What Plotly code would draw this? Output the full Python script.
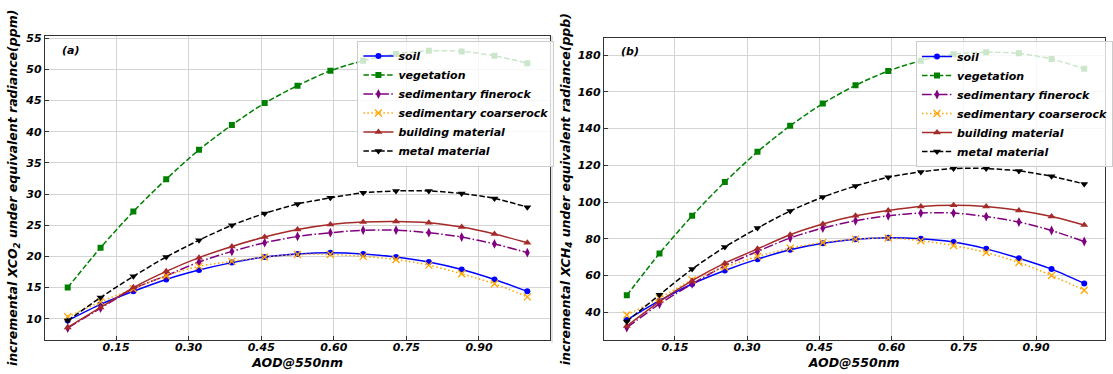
import plotly.graph_objects as go

W, H = 1113, 374

# ---------------- data ----------------
aod = [0.05, 0.1179, 0.1857, 0.2536, 0.3214, 0.3893, 0.4571, 0.525,
       0.5929, 0.6607, 0.7286, 0.7964, 0.8643, 0.9321, 1.0]

series_names = ["soil", "vegetation", "sedimentary finerock",
                "sedimentary coarserock", "building material", "metal material"]

# panel (a): incremental XCO2 (ppm)
co2_soil = [9.7, 12.3, 14.4, 16.3, 17.8, 19.0, 19.9, 20.4, 20.6, 20.4, 19.9, 19.1, 17.9, 16.3, 14.4]
co2_veg = [15.0, 21.4, 27.2, 32.4, 37.1, 41.1, 44.6, 47.4, 49.8, 51.4, 52.5, 53.0, 52.9, 52.2, 51.0]
co2_fine = [8.5, 11.7, 14.8, 16.9, 19.1, 20.8, 22.2, 23.2, 23.8, 24.2, 24.2, 23.8, 23.1, 22.0, 20.6]
co2_coarse = [10.3, 12.7, 14.8, 16.9, 18.4, 19.2, 19.9, 20.3, 20.3, 20.0, 19.5, 18.6, 17.2, 15.6, 13.5]
co2_build = [8.6, 11.8, 15.0, 17.6, 19.8, 21.6, 23.1, 24.3, 25.1, 25.5, 25.6, 25.4, 24.7, 23.6, 22.2]
co2_metal = [9.7, 13.4, 16.8, 19.9, 22.6, 25.0, 26.9, 28.4, 29.4, 30.2, 30.5, 30.5, 30.1, 29.3, 27.9]

# panel (b): incremental XCH4 (ppb)
ch4_soil = [35.8, 46.3, 55.4, 62.7, 68.9, 74.0, 77.6, 79.8, 80.6, 80.0, 78.2, 74.5, 69.4, 63.5, 55.7]
ch4_veg = [49.2, 72.0, 92.5, 110.9, 127.3, 141.5, 153.6, 163.5, 171.3, 176.9, 180.4, 181.5, 180.9, 177.8, 172.5]
ch4_fine = [31.6, 44.5, 55.4, 65.3, 73.1, 80.4, 85.8, 89.8, 92.5, 94.0, 94.0, 92.1, 89.1, 84.5, 78.5]
ch4_coarse = [38.5, 47.6, 57.6, 64.5, 70.3, 74.9, 78.0, 79.8, 80.4, 78.9, 76.3, 72.5, 67.1, 60.0, 52.0]
ch4_build = [32.5, 45.8, 57.2, 66.7, 74.5, 82.2, 88.0, 92.5, 95.4, 97.6, 98.3, 97.6, 95.4, 92.1, 87.5]
ch4_metal = [35.0, 49.5, 63.5, 75.5, 85.8, 95.1, 102.7, 108.7, 113.5, 116.4, 118.2, 118.2, 116.9, 114.0, 109.8]

x_tickvals = [0.15, 0.30, 0.45, 0.60, 0.75, 0.90]
x_ticktext = ["0.15", "0.30", "0.45", "0.60", "0.75", "0.90"]
y1_tickvals = [10, 15, 20, 25, 30, 35, 40, 45, 50, 55]
y2_tickvals = [40, 60, 80, 100, 120, 140, 160, 180]

panel_a = [co2_soil, co2_veg, co2_fine, co2_coarse, co2_build, co2_metal]
panel_b = [ch4_soil, ch4_veg, ch4_fine, ch4_coarse, ch4_build, ch4_metal]

# ---------------- styles ----------------
styles = [
    dict(color="#0000FF", dash="solid", symbol="circle", size=6, lw=1.5),
    dict(color="#008000", dash="5.5px,2.4px", symbol="square", size=6, lw=1.5),
    dict(color="#800080", dash="9.6px,2.4px,1.5px,2.4px", symbol="diamond-tall", size=7, lw=1.5),
    dict(color="#FFA500", dash="1.5px,2.5px", symbol="x-thin", size=7, lw=1.5),
    dict(color="#A52A2A", dash="solid", symbol="triangle-up", size=7, lw=1.5),
    dict(color="#000000", dash="5.5px,2.4px", symbol="triangle-down", size=7, lw=1.5),
]

FONT = "DejaVu Sans"

fig = go.Figure()

for panel, (xa, ya, lg) in zip([panel_a, panel_b], [("x", "y", "legend"), ("x2", "y2", "legend2")]):
    for name, vals, st in zip(series_names, panel, styles):
        marker = dict(symbol=st["symbol"], size=st["size"], color=st["color"])
        if st["symbol"] == "x-thin":
            marker["line"] = dict(color=st["color"], width=1.3)
        else:
            marker["line"] = dict(color=st["color"], width=0)
        fig.add_trace(go.Scatter(
            x=aod, y=vals, name=name, mode="lines+markers",
            line=dict(color=st["color"], width=st["lw"], dash=st["dash"], shape="spline", smoothing=0.8),
            marker=marker, xaxis=xa, yaxis=ya, legend=lg,
        ))

def px_x(p):
    return p / W

def px_y(p):
    return 1 - p / H

tickfont = dict(family=FONT, size=11, color="black", weight="bold", style="italic")
titlefont = dict(family=FONT, size=12.5, color="black", weight="bold", style="italic")

common_axis = dict(
    showgrid=True, gridcolor="#d4d4d4", gridwidth=1,
    showline=True, linecolor="#333333", linewidth=1.2, mirror=True,
    ticks="inside", ticklen=3.5, tickcolor="#333333", tickwidth=1,
    tickfont=tickfont, zeroline=False, automargin=False,
)

fig.update_layout(
    width=W, height=H,
    margin=dict(l=0, r=0, t=0, b=0),
    paper_bgcolor="white", plot_bgcolor="white",
    xaxis=dict(domain=[px_x(45.3), px_x(554.3)], range=[0.0030, 1.0475], anchor="y",
               tickvals=x_tickvals, ticktext=x_ticktext, ticklabelstandoff=-3,
               title=dict(text="AOD@550nm", font=titlefont, standoff=4), **common_axis),
    yaxis=dict(domain=[px_y(340), px_y(35.7)], range=[6.58, 55.42], anchor="x",
               tickvals=y1_tickvals,
               title=dict(text="incremental XCO<sub>2</sub> under equivalent radiance(ppm)", font=titlefont, standoff=4),
               **common_axis),
    xaxis2=dict(domain=[px_x(608.3), px_x(1112.5)], range=[0.0025, 0.0025 + (1112.5 - 608.3) * 0.15 / 72.75], anchor="y2",
                tickvals=x_tickvals, ticktext=x_ticktext, ticklabelstandoff=-3,
                title=dict(text="AOD@550nm", font=titlefont, standoff=4), **common_axis),
    yaxis2=dict(domain=[px_y(340), px_y(38.3)], range=[24.9, 189.1], anchor="x2",
                tickvals=y2_tickvals,
                title=dict(text="incremental XCH<sub>4</sub> under equivalent radiance(ppb)", font=titlefont, standoff=4),
                **common_axis),
    legend=dict(x=px_x(360), y=px_y(40.5), xanchor="left", yanchor="top",
                bgcolor="rgba(255,255,255,0.8)", bordercolor="#cccccc", borderwidth=1,
                font=dict(family=FONT, size=11, color="black", weight="bold", style="italic"),
                tracegroupgap=0, itemwidth=30),
    legend2=dict(x=px_x(923), y=px_y(41), xanchor="left", yanchor="top",
                 bgcolor="rgba(255,255,255,0.8)", bordercolor="#cccccc", borderwidth=1,
                 font=dict(family=FONT, size=11, color="black", weight="bold", style="italic"),
                 tracegroupgap=0, itemwidth=30),
    showlegend=True,
)

fig.add_annotation(text="(a)", x=px_x(60), y=px_y(50.7), xref="paper", yref="paper",
                   xanchor="left", yanchor="middle", showarrow=False,
                   font=dict(family=FONT, size=11, color="black", weight="bold", style="italic"))
fig.add_annotation(text="(b)", x=px_x(623), y=px_y(51.7), xref="paper", yref="paper",
                   xanchor="left", yanchor="middle", showarrow=False,
                   font=dict(family=FONT, size=11, color="black", weight="bold", style="italic"))

# faint border line of the second sub-image
fig.add_shape(type="line", xref="paper", yref="paper",
              x0=px_x(556), x1=px_x(556), y0=px_y(343), y1=px_y(36),
              line=dict(color="#c8c8c8", width=1))

fig.write_html("out.html")
